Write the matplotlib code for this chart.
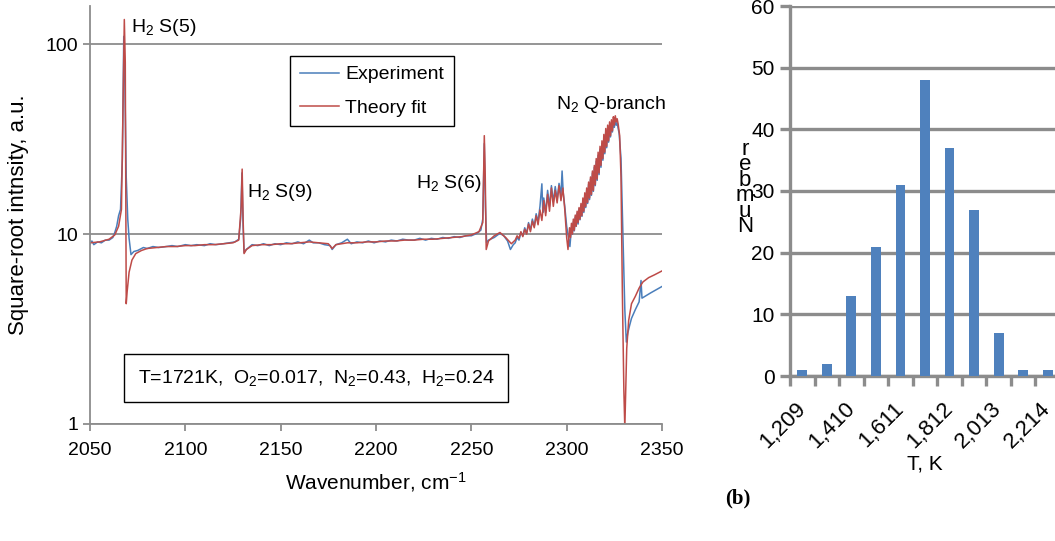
import matplotlib
matplotlib.use('Agg')
import matplotlib.pyplot as plt
import numpy as np

plt.rcParams['font.family'] = ['Liberation Sans', 'DejaVu Sans']
plt.rcParams['mathtext.default'] = 'regular'

# ---- spectrum data ----
fit_wn = [2050, 2055, 2060, 2063, 2065, 2066.5, 2067.5, 2068.0, 2068.5, 2069.0, 2069.5, 2070.5,
          2072, 2074, 2077, 2080, 2085, 2090, 2095, 2100, 2105, 2110, 2115, 2120, 2125, 2128,
          2129.3, 2129.8, 2130.3, 2130.8, 2132, 2135, 2140, 2145, 2150, 2155, 2160, 2165, 2170,
          2175, 2177, 2179, 2185, 2190, 2195, 2200, 2205, 2210, 2215, 2220, 2225, 2230, 2235,
          2240, 2245, 2250, 2254, 2256, 2256.8, 2257.3, 2257.8, 2259, 2262, 2265, 2268, 2271,
          2273, 2274, 2275, 2276, 2277, 2278, 2279, 2280, 2281, 2282, 2283, 2284, 2285, 2286,
          2287, 2288, 2289, 2290, 2291, 2292, 2293, 2294, 2295, 2296, 2297, 2298, 2299, 2300,
          2300.7, 2301.5, 2302, 2302.5, 2303, 2303.5, 2304, 2304.5, 2305, 2305.5, 2306, 2306.5,
          2307, 2307.5, 2308, 2308.5, 2309, 2309.5, 2310, 2310.5, 2311, 2311.5, 2312, 2312.5,
          2313, 2313.5, 2314, 2314.5, 2315, 2315.5, 2316, 2316.5, 2317, 2317.5, 2318, 2318.5,
          2319, 2319.5, 2320, 2320.5, 2321, 2321.5, 2322, 2322.5, 2323, 2323.5, 2324, 2324.5,
          2325, 2325.5, 2326, 2326.5, 2327, 2327.8, 2328.5, 2329.2, 2330, 2330.5, 2331.5, 2332.5,
          2334, 2336, 2338, 2340, 2343, 2346, 2350]
fit_val = [9.0, 9.1, 9.4, 9.9, 11.0, 13.5, 60, 135, 80, 4.3, 5.0, 6.3,
           7.3, 7.9, 8.2, 8.4, 8.5, 8.6, 8.6, 8.7, 8.7, 8.8, 8.8, 8.9, 9.0, 9.3,
           14, 22, 12, 7.9, 8.3, 8.7, 8.8, 8.8, 8.9, 8.9, 9.0, 9.1, 9.0,
           8.9, 8.4, 8.8, 9.0, 9.0, 9.1, 9.1, 9.2, 9.2, 9.3, 9.3, 9.4, 9.4, 9.5,
           9.6, 9.7, 9.9, 10.3, 11.5, 33, 20, 8.3, 9.2, 9.8, 10.2, 9.6, 8.9,
           9.3, 9.8, 9.5, 10.3, 9.7, 10.6, 10.0, 11.3, 10.3, 11.7, 10.8, 12.5, 11.2, 13.4,
           11.8, 15.0, 12.5, 16.2, 13.2, 17.5, 14.0, 17.0, 14.6, 18.0, 15.0, 17.5, 13.5, 9.6,
           8.3, 10.8, 9.6, 11.4, 10.0, 12.0, 10.5, 12.6, 11.0, 13.2, 11.5, 13.8,
           12.0, 14.5, 12.5, 15.5, 13.2, 16.5, 14.0, 17.5, 14.7, 18.8, 15.5, 20.0,
           16.2, 21.5, 17.0, 23.0, 18.2, 25.0, 19.5, 27.0, 21.0, 29.0, 23.0, 31.0,
           25.0, 33.5, 27.0, 36.0, 29.0, 37.5, 31.0, 39.0, 33.0, 40.0, 35.0, 41.5,
           37.5, 42.0, 39.0, 40.5, 38.0, 33, 20, 5, 1.5, 0.95, 2.5, 3.5,
           4.3, 4.7, 5.2, 5.6, 5.9, 6.1, 6.4]

exp_wn = [2050, 2051, 2052, 2054, 2056, 2058, 2060, 2062, 2063, 2064, 2065, 2066, 2067, 2067.7,
          2068.3, 2069, 2069.8, 2070.5, 2071.5, 2073, 2075, 2078, 2080, 2083, 2086, 2090, 2093,
          2096, 2100, 2103, 2106, 2110, 2113, 2116, 2120, 2123, 2126, 2128, 2129, 2129.7, 2130.3,
          2130.8, 2132, 2135, 2138, 2141, 2144, 2147, 2150, 2153, 2156, 2159, 2162, 2165, 2167,
          2170, 2173, 2176, 2177, 2179, 2182, 2185, 2187, 2190, 2193, 2196, 2199, 2202, 2205,
          2208, 2211, 2214, 2217, 2220, 2223, 2226, 2229, 2232, 2235, 2238, 2241, 2244, 2247,
          2250, 2253, 2255, 2256, 2256.8, 2257.4, 2258, 2259, 2262, 2265, 2267, 2269, 2270.5,
          2272, 2273, 2274, 2275, 2276, 2277, 2278, 2279, 2280, 2281, 2282, 2283, 2284, 2285,
          2286, 2287, 2287.5, 2288, 2289, 2290, 2291, 2292, 2293, 2294, 2295, 2296, 2297, 2297.6,
          2298.2, 2299, 2300, 2301, 2301.7, 2302.5, 2303, 2303.5, 2304, 2304.5, 2305, 2305.5,
          2306, 2306.5, 2307, 2307.5, 2308, 2308.5, 2309, 2309.5, 2310, 2310.5, 2311, 2311.5,
          2312, 2312.5, 2313, 2313.5, 2314, 2314.5, 2315, 2315.5, 2316, 2316.5, 2317, 2317.5,
          2318, 2318.5, 2319, 2319.5, 2320, 2320.5, 2321, 2321.5, 2322, 2322.5, 2323, 2323.5,
          2324, 2324.5, 2325, 2325.5, 2326, 2326.5, 2327, 2327.5, 2328.5, 2329.5, 2330.5,
          2331.3, 2332, 2333, 2334, 2336, 2338, 2339, 2339.5, 2341, 2344, 2347, 2350]
exp_val = [8.9, 9.2, 8.8, 9.1, 9.0, 9.3, 9.3, 9.6, 10.2, 11.0, 12.5, 13.5, 25, 110,
           60, 20, 12, 9.5, 7.8, 8.1, 8.2, 8.5, 8.4, 8.6, 8.5, 8.6, 8.7,
           8.6, 8.8, 8.7, 8.8, 8.7, 8.9, 8.8, 8.9, 9.0, 9.1, 9.4, 12, 21, 11,
           8.0, 8.3, 8.8, 8.7, 8.9, 8.7, 8.9, 8.8, 9.0, 8.9, 9.1, 8.9, 9.3, 9.0,
           9.0, 8.8, 8.7, 8.3, 8.8, 9.0, 9.4, 8.9, 9.1, 9.0, 9.2, 9.0, 9.2, 9.1,
           9.3, 9.2, 9.4, 9.3, 9.3, 9.5, 9.3, 9.5, 9.4, 9.6, 9.5, 9.7, 9.6, 9.8,
           9.8, 10.1, 10.5, 12, 30, 14, 9.0, 9.3, 9.6, 10.1, 9.8, 9.2, 8.3,
           8.8, 9.0, 9.6, 9.3, 10.2, 9.8, 10.8, 10.1, 11.5, 10.5, 12.0, 11.0, 12.8, 11.6,
           14.0, 18.4, 13.0, 15.5, 13.0, 17.0, 14.0, 18.0, 14.8, 17.8, 15.2, 18.5, 16.0, 21.5,
           16.5, 14.0, 11.0, 9.5, 8.6, 10.8, 10.0, 11.6, 10.4, 12.3, 11.0, 12.9,
           11.3, 13.6, 11.9, 14.2, 12.4, 15.0, 13.0, 16.0, 13.8, 17.0, 14.5, 18.3,
           15.2, 19.5, 16.0, 21.0, 16.8, 22.5, 18.0, 24.2, 19.2, 26.0, 20.6, 28.0,
           22.5, 30.0, 24.5, 32.0, 26.5, 34.5, 28.5, 36.0, 30.5, 37.5, 32.5, 38.5,
           34.5, 39.5, 36.5, 40.0, 37.5, 38.5, 36.0, 34, 25, 10, 4,
           2.7, 3.0, 3.3, 3.6, 4.0, 4.4, 5.7, 4.6, 4.7, 4.9, 5.1, 5.3]

peak_labels = ['H$_2$ S(5)', 'H$_2$ S(9)', 'H$_2$ S(6)', 'N$_2$ Q-branch']
peak_label_pos = [(2071.5, 122), (2132.3, 16.5), (2221, 18.4), (2294.4, 48)]

# ---- histogram data ----
T_bins = [1209, 1310, 1410, 1511, 1611, 1712, 1812, 1912, 2013, 2113, 2214]
counts = [1, 2, 13, 21, 31, 48, 37, 27, 7, 1, 1]

blue = '#4a7ebb'
red = '#be4b48'
grid_gray = '#8c8c8c'

fig = plt.figure(figsize=(10.55, 5.41), dpi=100)

# ---------- left: spectrum ----------
ax = fig.add_axes([90 / 1055, 117 / 541, 572 / 1055, 418 / 541])
ax.plot(exp_wn, exp_val, color=blue, lw=1.1, label='Experiment')
ax.plot(fit_wn, fit_val, color=red, lw=1.1, label='Theory fit')
ax.set_yscale('log')
ax.set_xlim(2050, 2350)
ax.set_ylim(1, 159)
ax.set_yticks([1, 10, 100])
ax.set_yticklabels(['1', '10', '100'])
ax.minorticks_off()
ax.set_xticks(np.arange(2050, 2351, 50))
ax.yaxis.grid(True, color=grid_gray, lw=1.3)
ax.set_axisbelow(True)
for s in ['top', 'right']:
    ax.spines[s].set_visible(False)
for s in ['left', 'bottom']:
    ax.spines[s].set_color(grid_gray)
    ax.spines[s].set_linewidth(1.3)
ax.tick_params(axis='both', labelsize=14, color=grid_gray, length=5, width=1.3)
ax.tick_params(axis='x', pad=8)
ax.set_xlabel('Wavenumber, cm$^{-1}$', fontsize=15, labelpad=8)
ax.set_ylabel('Square-root intnsity, a.u.', fontsize=16, labelpad=12)

for txt, (px, py) in zip(peak_labels, peak_label_pos):
    ax.text(px, py, txt, fontsize=14, ha='left', va='center')

leg = ax.legend(loc='upper left', bbox_to_anchor=((290 - 90) / 572, (424 - 56) / 418),
                fontsize=14, handlelength=2.0, handletextpad=0.35, labelspacing=0.8,
                borderpad=0.5, borderaxespad=0, fancybox=False, framealpha=1,
                edgecolor='black')
leg.get_frame().set_linewidth(1.0)

ax.text(0.395, 0.110, 'T=1721K,  O$_2$=0.017,  N$_2$=0.43,  H$_2$=0.24', transform=ax.transAxes,
        fontsize=14, ha='center', va='center',
        bbox=dict(boxstyle='square,pad=0.7', fc='white', ec='black', lw=1.0))

# ---------- right: histogram ----------
ax2 = fig.add_axes([790 / 1055, 165 / 541, 270 / 1055, 370 / 541])
xpos = np.arange(len(T_bins))
ax2.bar(xpos, counts, width=0.4, color='#4f81bd', zorder=3)
ax2.set_xlim(-0.5, len(T_bins) - 0.5)
ax2.set_ylim(0, 60)
ax2.set_yticks(np.arange(0, 61, 10))
ax2.yaxis.grid(True, color=grid_gray, lw=2.4, zorder=0)
ax2.set_axisbelow(True)
for s in ['top', 'right']:
    ax2.spines[s].set_visible(False)
for s in ['left', 'bottom']:
    ax2.spines[s].set_color(grid_gray)
    ax2.spines[s].set_linewidth(2.4)
ax2.set_xticks(xpos[::2])
ax2.set_xticklabels(['{:,}'.format(t) for t in T_bins[::2]], rotation=45, ha='right',
                    va='center', rotation_mode='anchor', fontsize=16)
ax2.set_xticks(np.arange(-0.5, len(T_bins)), minor=True)
ax2.tick_params(axis='x', which='major', length=0, pad=21)
ax2.tick_params(axis='x', which='minor', length=7, width=2.4, color=grid_gray)
ax2.tick_params(axis='y', labelsize=15, length=7, width=2.4, color=grid_gray, pad=4)
ax2.set_xlabel('T, K', fontsize=15, labelpad=2)

fig.text(745 / 1055, 1 - 188 / 541, 'r\ne\nb\nm\nu\nN', fontsize=16, ha='center',
         va='center', linespacing=0.65)
fig.text(738 / 1055, 1 - 498 / 541, '(b)', fontsize=15, fontweight='bold',
         family=['Liberation Serif', 'DejaVu Serif'], ha='center', va='center')

fig.savefig('out.png', dpi=100)
